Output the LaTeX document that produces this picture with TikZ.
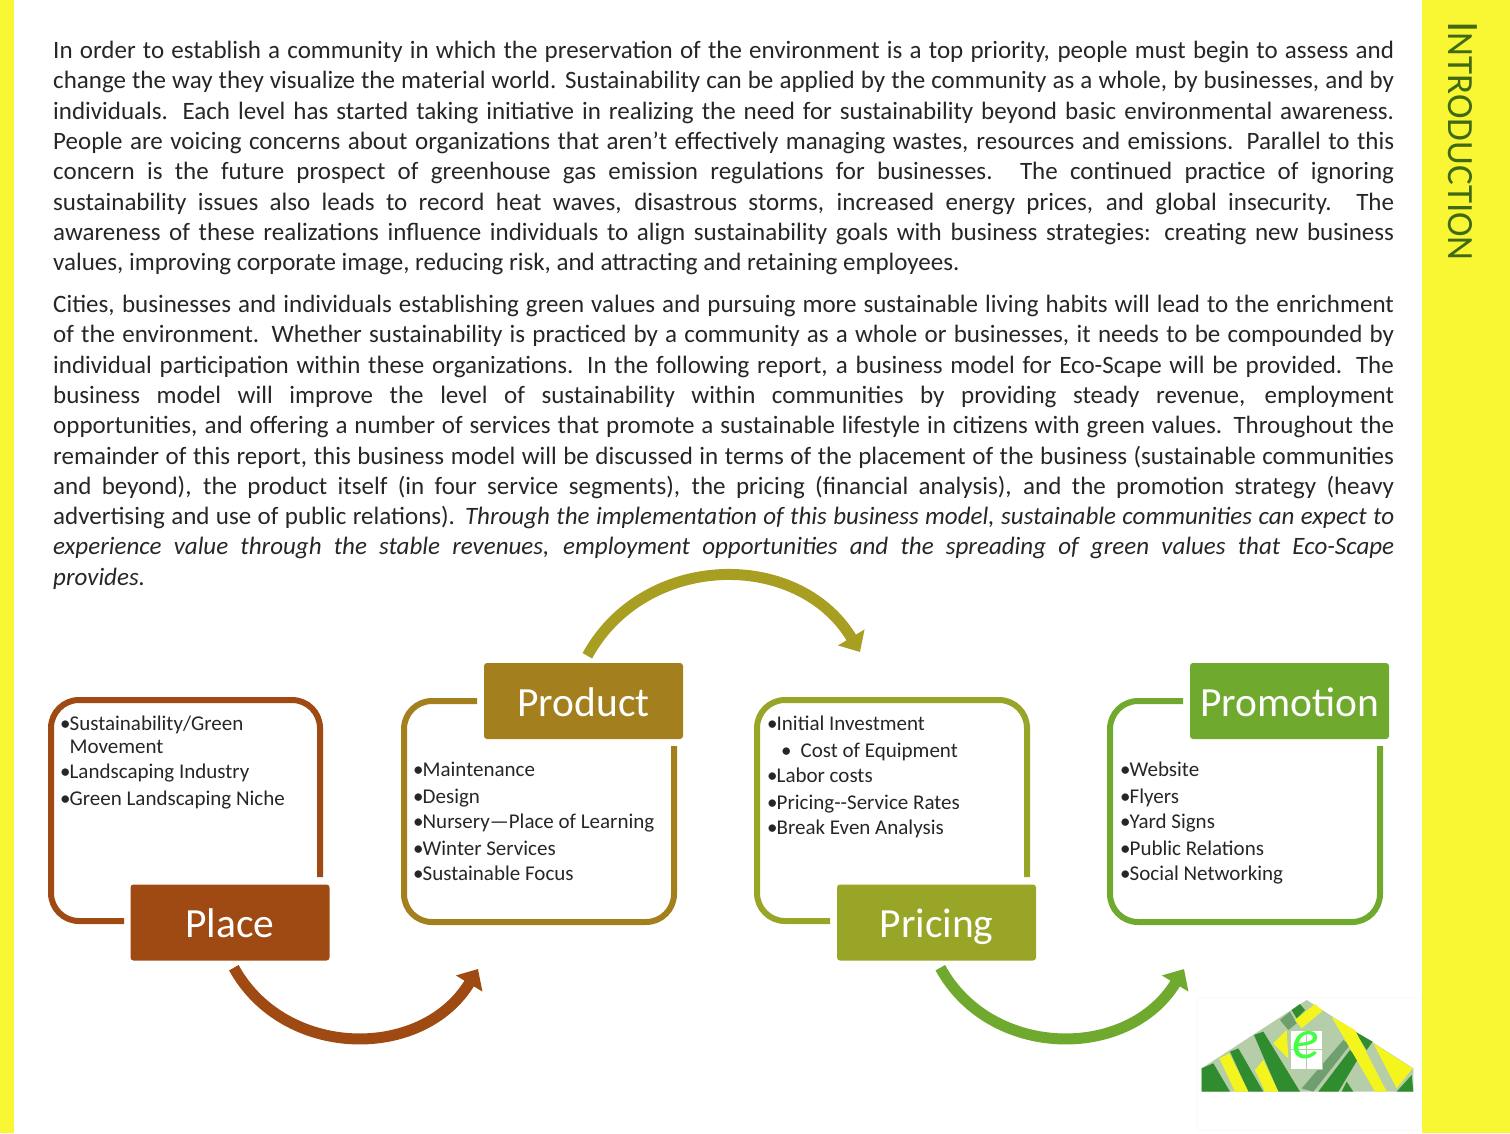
\documentclass[tikz,border=0pt]{standalone}
\usepackage{fontspec}
\setmainfont{Carlito}
\usepackage{tikz}
\usetikzlibrary{arrows.meta,positioning,calc}
\tolerance=9999
\hbadness=10000
\hfuzz=20pt
\definecolor{PageYellow}{HTML}{F9F733}
\definecolor{PlaceBrown}{HTML}{9F4913}
\definecolor{ProductGold}{HTML}{A37F1D}
\definecolor{PricingOlive}{HTML}{98A526}
\definecolor{PromotionGreen}{HTML}{6FAA2E}
\definecolor{BridgeOlive}{HTML}{A89E22}
\definecolor{TitleGreen}{HTML}{3F6A12}
\definecolor{LogoDark}{HTML}{2F8C2F}
\definecolor{LogoMid}{HTML}{6F9F6F}
\definecolor{LogoLight}{HTML}{B5CDA8}
\definecolor{LogoYellow}{HTML}{F5F51E}
\tikzstyle{strip} = [fill=PageYellow, draw=none]
\tikzstyle{body} = [anchor=north west, inner sep=0pt, text width=1341pt, align=justify, text=black!85,
font=\fontsize{25}{30.3}\selectfont]
\tikzstyle{head} = [rectangle, rounded corners=3pt, minimum width=199pt, minimum height=76pt, inner sep=0pt,
text height=32pt, text depth=2pt, text=white, font=\fontsize{41.5}{41.5}\selectfont]
\tikzstyle{frame} = [line width=6pt, rounded corners=28pt]
\tikzstyle{flow} = [line width=11pt, -{Triangle[length=17pt,width=30pt]}]
\tikzstyle{items} = [anchor=north west, inner sep=0pt, align=left, text=black!85,
font=\fontsize{21}{25}\selectfont]
\newcommand{\ditem}{\textbullet\kern-1pt}
\begin{document}
\begin{tikzpicture}[x=1pt,y=-1pt]
	\useasboundingbox (0,0) rectangle (1510,1133);
	\fill[strip] (0,0) rectangle (14,1133);
	\fill[strip] (1422,0) rectangle (1510,1133);
	\node[rotate=-90, text=TitleGreen, font=\fontsize{37}{37}\selectfont] (title) at (1463,141){{\fontsize{45}{45}\selectfont I}NTRODUCTION};

	\node[body] (parone) at (53,41){In order to establish a community in which the preservation of the environment is a top priority, people must begin to assess and\linebreak
		change the way they visualize the material world. Sustainability can be applied by the community as a whole, by businesses, and by\linebreak
		individuals.  Each level has started taking initiative in realizing the need for sustainability beyond basic environmental awareness.\linebreak
		People are voicing concerns about organizations that aren’t effectively managing wastes, resources and emissions. Parallel to this\linebreak
		concern is the future prospect of greenhouse gas emission regulations for businesses.  The continued practice of ignoring\linebreak
		sustainability issues also leads to record heat waves, disastrous storms, increased energy prices, and global insecurity. The\linebreak
		awareness of these realizations influence individuals to align sustainability goals with business strategies:  creating new business\linebreak
		values, improving corporate image, reducing risk, and attracting and retaining employees.
	};
	\node[body] (partwo) at (53,295){Cities, businesses and individuals establishing green values and pursuing more sustainable living habits will lead to the enrichment\linebreak
		of the environment.  Whether sustainability is practiced by a community as a whole or businesses, it needs to be compounded by\linebreak
		individual participation within these organizations.  In the following report, a business model for Eco-Scape will be provided.  The\linebreak
		business model will improve the level of sustainability within communities by providing steady revenue, employment\linebreak
		opportunities, and offering a number of services that promote a sustainable lifestyle in citizens with green values.  Throughout the\linebreak
		remainder of this report, this business model will be discussed in terms of the placement of the business (sustainable communities\linebreak
		and beyond), the product itself (in four service segments), the pricing (financial analysis), and the promotion strategy (heavy\linebreak
		advertising and use of public relations).  \textit{Through the implementation of this business model, sustainable communities can expect to\linebreak
		experience value through the stable revenues, employment opportunities and the spreading of green values that Eco-Scape\linebreak
		provides.}
	};

	\draw[frame, PlaceBrown] (124,921) -| (51,700) -| (320,877);
	\draw[frame, ProductGold] (477,701) -| (404,922) -| (674,746);
	\draw[frame, PricingOlive] (830,921) -| (757,700) -| (1027,877);
	\draw[frame, PromotionGreen] (1183,701) -| (1110,922) -| (1380,746);

	\node[head, fill=PlaceBrown] (place) at (230,922.5){Place};
	\node[head, fill=ProductGold] (product) at (583.5,701){Product};
	\node[head, fill=PricingOlive] (pricing) at (936.5,922.5){Pricing};
	\node[head, fill=PromotionGreen] (promotion) at (1289.5,701){Promotion};

	\node[items] (placelist) at (60,716){\ditem Sustainability/Green\\[-2pt]
		\hphantom{\ditem}Movement\\
		\ditem Landscaping Industry\\[2pt]
		\ditem Green Landscaping Niche};
	\node[items] (productlist) at (413,762){\ditem Maintenance\\[2pt]
		\ditem Design\\
		\ditem Nursery—Place of Learning\\[2pt]
		\ditem Winter Services\\
		\ditem Sustainable Focus};
	\node[items] (pricinglist) at (767,716){\ditem Initial Investment\\[2pt]
		\hspace{14pt}\ditem\hspace{10pt}Cost of Equipment\\
		\ditem Labor costs\\[2pt]
		\ditem Pricing{-}{-}Service Rates\\
		\ditem Break Even Analysis};
	\node[items] (promotionlist) at (1120,762){\ditem Website\\[2pt]
		\ditem Flyers\\
		\ditem Yard Signs\\[2pt]
		\ditem Public Relations\\
		\ditem Social Networking};

	\coordinate (placeend) at (478,969);
	\coordinate (productend) at (860,652);
	\coordinate (pricingend) at (1184,969);
	\draw[flow, PlaceBrown, shorten <=8pt] (place.south) .. controls (284,1059) and (422,1061) .. (placeend);
	\draw[flow, BridgeOlive, shorten <=8pt] (product.north) .. controls (644,552) and (798,549) .. (productend);
	\draw[flow, PromotionGreen, shorten <=8pt] (pricing.south) .. controls (990,1059) and (1128,1061) .. (pricingend);

	% logo
	\draw[black!2] (1197,997) rectangle (1420,1130);
	\begin{scope}[shift={(1180,980)}, x=0.3333pt, y=-0.3333pt]
		\fill[LogoLight] (380,60) -- (700,265) -- (700,335) -- (65,335) -- (65,265) -- cycle;
		\foreach \band in {{(65,265) -- (100,250) -- (150,335) -- (65,335)},
				{(150,215) -- (175,205) -- (250,335) -- (205,335)},
				{(222,165) -- (250,155) -- (360,335) -- (295,335)},
				{(335,90) -- (360,72) -- (375,90) -- (350,115)},
				{(415,335) -- (510,210) -- (535,235) -- (475,335)},
				{(485,335) -- (500,305) -- (520,335)},
				{(525,155) -- (578,185) -- (560,210)},
				{(650,335) -- (695,285) -- (700,335)}}
			\fill[LogoDark] \band -- cycle;
		\foreach \band in {{(300,120) -- (330,95) -- (350,130) -- (325,150)},
				{(365,325) -- (490,180) -- (510,195) -- (400,335)}}
			\fill[LogoMid] \band -- cycle;
		\foreach \band in {{(118,235) -- (148,220) -- (205,335) -- (165,335)},
				{(225,270) -- (250,240) -- (295,335) -- (255,335)},
				{(280,190) -- (320,150) -- (325,235)},
				{(345,120) -- (405,72) -- (428,92) -- (365,145)},
				{(455,110) -- (525,150) -- (620,335) -- (585,335)},
				{(580,190) -- (698,265) -- (650,325)}}
			\fill[LogoYellow] \band -- cycle;
		\draw[white, line width=1pt] (65,336) -- (700,336);
		\draw[LogoLight, fill=white, line width=1.2pt] (330,152) rectangle (428,268);
		\draw[LogoLight, line width=1pt] (330,208) -- (428,208) (379,152) -- (379,268);
		\node[text=green!75!white, font=\fontsize{56}{56}\selectfont\itshape] (logoe) at (378,195){e};
	\end{scope}
\end{tikzpicture}
\end{document}
